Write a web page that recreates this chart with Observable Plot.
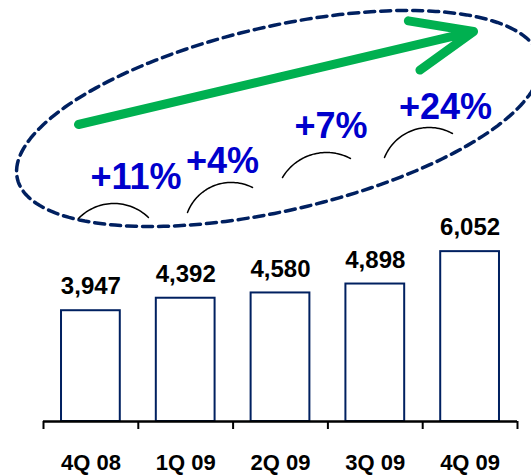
<!DOCTYPE html>
<html>
<head>
<meta charset="utf-8">
<script src="https://cdn.jsdelivr.net/npm/d3@7"></script>
<script src="https://cdn.jsdelivr.net/npm/@observablehq/plot@0.6"></script>
<style>
  html, body { margin: 0; padding: 0; background: white; }
</style>
</head>
<body>
<div id="chart"></div>
<script>
// ---- data ----
const quarters = ["4Q 08", "1Q 09", "2Q 09", "3Q 09", "4Q 09"];
const revenue = [3947, 4392, 4580, 4898, 6052];
const valueLabels = ["3,947", "4,392", "4,580", "4,898", "6,052"];
const growthLabels = ["+11%", "+4%", "+7%", "+24%"];

// annotation anchors in data units (x = quarter index, y = value units)
const growthX = [0.476, 1.388, 2.533, 3.741];
const growthY = [8694, 9264, 10511, 11188];
const arcPoints = [
  [[-0.131, 7233], [0.238, 7767], [0.607, 7269]],
  [[1.019, 7447], [1.504, 8516], [1.705, 8337]],
  [[2.021, 8694], [2.496, 9584], [2.738, 9371]],
  [[3.097, 9406], [3.551, 10475], [3.814, 10261]]
];
const trendArrow = [{x1: -0.131, y1: 10582, x2: 4.036, y2: 13896}];
const boundaries = [-0.5, 0.5, 1.5, 2.5, 3.5, 4.5];

// ---- layout ----
const W = 531, H = 475;
const mL = 43, mR = 14, mT = 0, mB = 54;
const xDomain = [-0.5, 4.5], yDomain = [0, 15000];
const xs = d3.scaleLinear(xDomain, [mL, W - mR]);
const ys = d3.scaleLinear(yDomain, [H - mB, mT]);

// ellipse outline (center in data units, semi-axes in px, tilt in degrees)
const ell = {cx: 1.979, cy: 10796, a: 268, b: 92, angle: -13};
const ellipsePts = (() => {
  const pts = [];
  const cxp = xs(ell.cx), cyp = ys(ell.cy);
  const th = ell.angle * Math.PI / 180;
  for (let k = 0; k <= 200; k++) {
    const t = (k / 200) * 2 * Math.PI;
    const px = cxp + ell.a * Math.cos(t) * Math.cos(th) - ell.b * Math.sin(t) * Math.sin(th);
    const py = cyp + ell.a * Math.cos(t) * Math.sin(th) + ell.b * Math.sin(t) * Math.cos(th);
    pts.push({x: xs.invert(px), y: ys.invert(py)});
  }
  return pts;
})();

// circular arc through start / peak / end anchor points (screen space)
function circleArc(pts, k) {
  const [[ax, ay], [bx, by], [cx, cy]] = pts.map(([x, y]) => [xs(x), ys(y)]);
  const d = 2 * (ax * (by - cy) + bx * (cy - ay) + cx * (ay - by));
  const ux = ((ax*ax + ay*ay) * (by - cy) + (bx*bx + by*by) * (cy - ay) + (cx*cx + cy*cy) * (ay - by)) / d;
  const uy = ((ax*ax + ay*ay) * (cx - bx) + (bx*bx + by*by) * (ax - cx) + (cx*cx + cy*cy) * (bx - ax)) / d;
  const r = Math.hypot(ax - ux, ay - uy);
  let a0 = Math.atan2(ay - uy, ax - ux);
  let a1 = Math.atan2(cy - uy, cx - ux);
  // arcs bulge upward: go through the top (angle -PI/2)
  while (a1 < a0) a1 += 2 * Math.PI;
  const out = [];
  for (let s = 0; s <= 40; s++) {
    const a = a0 + (a1 - a0) * s / 40;
    out.push({k, x: xs.invert(ux + r * Math.cos(a)), y: ys.invert(uy + r * Math.sin(a))});
  }
  return out;
}

const rows = quarters.map((q, i) => ({i, q, value: revenue[i], label: valueLabels[i]}));
const growth = growthLabels.map((t, i) => ({t, x: growthX[i], y: growthY[i]}));
const arcs = arcPoints.flatMap((pts, k) => circleArc(pts, k));
const tickLen = ys.invert(H - mB + 8); // 8px below baseline, in value units

const font = "Liberation Sans, Arial, Helvetica, sans-serif";

const chart = Plot.plot({
  width: W,
  height: H,
  marginLeft: mL,
  marginRight: mR,
  marginTop: mT,
  marginBottom: mB,
  x: {domain: xDomain, axis: null},
  y: {domain: yDomain, axis: null},
  style: {fontFamily: font, background: "white", overflow: "visible"},
  marks: [
    Plot.line(ellipsePts, {x: "x", y: "y", stroke: "#002060", strokeWidth: 3.5, strokeDasharray: "10,6"}),
    Plot.arrow(trendArrow, {
      x1: "x1", y1: "y1", x2: "x2", y2: "y2",
      stroke: "#00B050", strokeWidth: 9, headLength: 11, headAngle: 45,
      strokeLinecap: "round", strokeLinejoin: "round"
    }),
    Plot.line(arcs, {x: "x", y: "y", z: "k", stroke: "black", strokeWidth: 1.5}),
    Plot.text(growth, {
      x: "x", y: "y", text: "t", fill: "#0000CC",
      fontSize: 36, fontWeight: "bold", lineAnchor: "middle"
    }),
    Plot.rectY(rows, {
      x1: d => d.i - 0.31, x2: d => d.i + 0.31, y: "value",
      fill: "white", stroke: "#002060", strokeWidth: 2
    }),
    Plot.text(rows, {
      x: "i", y: "value", text: "label", dy: -24,
      fontSize: 24, fontWeight: "bold", fill: "black", lineAnchor: "middle"
    }),
    Plot.ruleY([0], {stroke: "black", strokeWidth: 2.5}),
    Plot.ruleX(boundaries, {y1: 0, y2: tickLen, stroke: "black", strokeWidth: 2}),
    Plot.text(rows, {
      x: "i", y: 0, text: "q", dy: 41,
      fontSize: 22, fontWeight: "bold", fill: "black", lineAnchor: "middle"
    })
  ]
});

document.getElementById("chart").appendChild(chart);
</script>
</body>
</html>
